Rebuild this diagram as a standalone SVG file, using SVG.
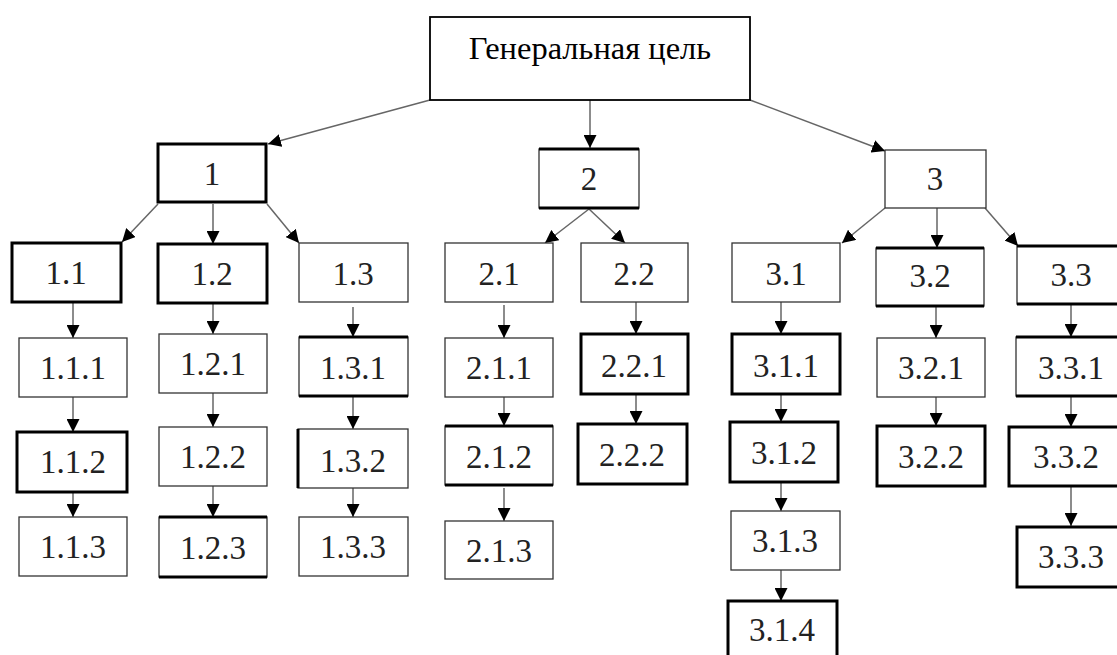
<svg xmlns="http://www.w3.org/2000/svg" width="1117" height="655" viewBox="0 0 1117 655">
<style>
.thin{fill:#fff;stroke:#333;stroke-width:1.3}
.thick{fill:#fff;stroke:#000;stroke-width:3}
.mid{fill:#fff;stroke:#000;stroke-width:1.8}
.bar{fill:none;stroke:#000;stroke-width:3}
text{font-family:"Liberation Serif","Times New Roman",serif;font-size:33px;fill:#222;text-anchor:middle}
.title{font-size:32.5px;fill:#000}
#connectors line{stroke:#666;stroke-width:1.5;marker-end:url(#ah)}
</style>
<defs>
<marker id="ah" markerUnits="userSpaceOnUse" markerWidth="13" markerHeight="13" refX="13" refY="6.5" orient="auto">
<path d="M0,0 L13,6.5 L0,13 z" fill="#000"/>
</marker>
</defs>
<rect width="1117" height="655" fill="#fff"/>
<g id="connectors">
<line x1="430" y1="100" x2="268" y2="144"/>
<line x1="590" y1="100" x2="590" y2="148"/>
<line x1="750" y1="100" x2="885" y2="151"/>
<line x1="158" y1="204" x2="122" y2="242"/>
<line x1="213" y1="204" x2="213" y2="244"/>
<line x1="267" y1="204" x2="299" y2="243"/>
<line x1="589" y1="209" x2="545" y2="243"/>
<line x1="589" y1="209" x2="625" y2="243"/>
<line x1="885" y1="208" x2="842" y2="243"/>
<line x1="937" y1="208" x2="937" y2="248"/>
<line x1="985" y1="208" x2="1018" y2="246"/>
<line x1="73" y1="302" x2="73" y2="338"/>
<line x1="73" y1="397" x2="73" y2="432"/>
<line x1="73" y1="485" x2="73" y2="517"/>
<line x1="213" y1="303" x2="213" y2="334"/>
<line x1="213" y1="393" x2="213" y2="427"/>
<line x1="213" y1="486" x2="213" y2="517"/>
<line x1="353" y1="307" x2="353" y2="337"/>
<line x1="353" y1="396" x2="353" y2="429"/>
<line x1="353" y1="483" x2="353" y2="517"/>
<line x1="504" y1="305" x2="504" y2="338"/>
<line x1="504" y1="397" x2="504" y2="426"/>
<line x1="504" y1="488" x2="504" y2="521"/>
<line x1="636" y1="302" x2="636" y2="334"/>
<line x1="636" y1="394" x2="636" y2="424"/>
<line x1="781" y1="302" x2="781" y2="334"/>
<line x1="781" y1="391" x2="781" y2="422"/>
<line x1="781" y1="482" x2="781" y2="511"/>
<line x1="781" y1="570" x2="781" y2="601"/>
<line x1="936" y1="306" x2="936" y2="338"/>
<line x1="936" y1="397" x2="936" y2="426"/>
<line x1="1071" y1="304" x2="1071" y2="337"/>
<line x1="1071" y1="396" x2="1071" y2="427"/>
<line x1="1071" y1="487" x2="1071" y2="526"/>
</g>
<g id="goal"><rect class="mid" x="430" y="17" width="320" height="83"/><text class="title" x="590" y="59">Генеральная цель</text></g>
<g id="n1"><rect class="thick" x="158" y="144" width="108" height="58"/><text x="212" y="185">1</text></g>
<g id="n2"><rect class="thin" x="539" y="149" width="100" height="59"/><path class="bar" d="M539 149h100M539 208h100"/><text x="589" y="190">2</text></g>
<g id="n3"><rect class="thin" x="885" y="150" width="101" height="58"/><text x="935" y="190">3</text></g>
<g id="n1_1"><rect class="thick" x="12" y="243" width="109" height="59"/><text x="66" y="284">1.1</text></g>
<g id="n1_2"><rect class="thick" x="158" y="244" width="109" height="59"/><text x="212" y="285">1.2</text></g>
<g id="n1_3"><rect class="thin" x="299" y="243" width="109" height="59"/><text x="353" y="285">1.3</text></g>
<g id="n2_1"><rect class="thin" x="445" y="243" width="108" height="59"/><text x="499" y="285">2.1</text></g>
<g id="n2_2"><rect class="thin" x="581" y="243" width="107" height="59"/><text x="634" y="285">2.2</text></g>
<g id="n3_1"><rect class="thin" x="732" y="243" width="108" height="59"/><text x="786" y="285">3.1</text></g>
<g id="n3_2"><rect class="thin" x="876" y="248" width="108" height="58"/><path class="bar" d="M876 248h108M876 306h108"/><text x="930" y="287">3.2</text></g>
<g id="n3_3"><rect class="thin" x="1017" y="246" width="110" height="58"/><path class="bar" d="M1017 246h110M1017 304h110"/><text x="1071" y="286">3.3</text></g>
<g id="n1_1_1"><rect class="thin" x="19" y="338" width="108" height="59"/><text x="73" y="379">1.1.1</text></g>
<g id="n1_2_1"><rect class="thin" x="159" y="334" width="108" height="59"/><text x="213" y="375">1.2.1</text></g>
<g id="n1_3_1"><rect class="thin" x="299" y="337" width="109" height="59"/><path class="bar" d="M299 337h109M299 396h109"/><text x="353" y="379">1.3.1</text></g>
<g id="n2_1_1"><rect class="thin" x="445" y="338" width="108" height="59"/><text x="499" y="379">2.1.1</text></g>
<g id="n2_2_1"><rect class="thick" x="581" y="334" width="107" height="60"/><text x="634" y="377">2.2.1</text></g>
<g id="n3_1_1"><rect class="thick" x="732" y="334" width="108" height="60"/><text x="786" y="377">3.1.1</text></g>
<g id="n3_2_1"><rect class="thin" x="877" y="338" width="108" height="59"/><text x="931" y="379">3.2.1</text></g>
<g id="n3_3_1"><rect class="thin" x="1016" y="337" width="110" height="59"/><path class="bar" d="M1016 337h110M1016 396h110"/><text x="1071" y="379">3.3.1</text></g>
<g id="n1_1_2"><rect class="thick" x="17" y="432" width="110" height="60"/><text x="73" y="473">1.1.2</text></g>
<g id="n1_2_2"><rect class="thin" x="159" y="427" width="108" height="59"/><text x="213" y="468">1.2.2</text></g>
<g id="n1_3_2"><rect class="thin" x="298" y="429" width="110" height="59"/><path class="bar" d="M298 429v59"/><text x="353" y="472">1.3.2</text></g>
<g id="n2_1_2"><rect class="thin" x="445" y="426" width="108" height="59"/><path class="bar" d="M445 426h108M445 485h108"/><text x="499" y="468">2.1.2</text></g>
<g id="n2_2_2"><rect class="thick" x="578" y="424" width="109" height="60"/><text x="632" y="466">2.2.2</text></g>
<g id="n3_1_2"><rect class="thick" x="730" y="422" width="108" height="60"/><text x="784" y="464">3.1.2</text></g>
<g id="n3_2_2"><rect class="thick" x="877" y="426" width="108" height="60"/><text x="931" y="468">3.2.2</text></g>
<g id="n3_3_2"><rect class="thick" x="1009" y="427" width="118" height="59"/><text x="1066" y="468">3.3.2</text></g>
<g id="n1_1_3"><rect class="thin" x="19" y="517" width="108" height="59"/><text x="73" y="558">1.1.3</text></g>
<g id="n1_2_3"><rect class="thin" x="159" y="517" width="108" height="60"/><path class="bar" d="M159 517h108M159 577h108"/><text x="213" y="559">1.2.3</text></g>
<g id="n1_3_3"><rect class="thin" x="299" y="517" width="109" height="59"/><text x="353" y="558">1.3.3</text></g>
<g id="n2_1_3"><rect class="thin" x="445" y="521" width="108" height="58"/><text x="499" y="562">2.1.3</text></g>
<g id="n3_1_3"><rect class="thin" x="731" y="511" width="109" height="59"/><text x="785" y="552">3.1.3</text></g>
<g id="n3_3_3"><rect class="thick" x="1017" y="527" width="110" height="60"/><text x="1071" y="568">3.3.3</text></g>
<g id="n3_1_4"><rect class="thick" x="728" y="601" width="109" height="60"/><text x="782" y="641">3.1.4</text></g>
</svg>
